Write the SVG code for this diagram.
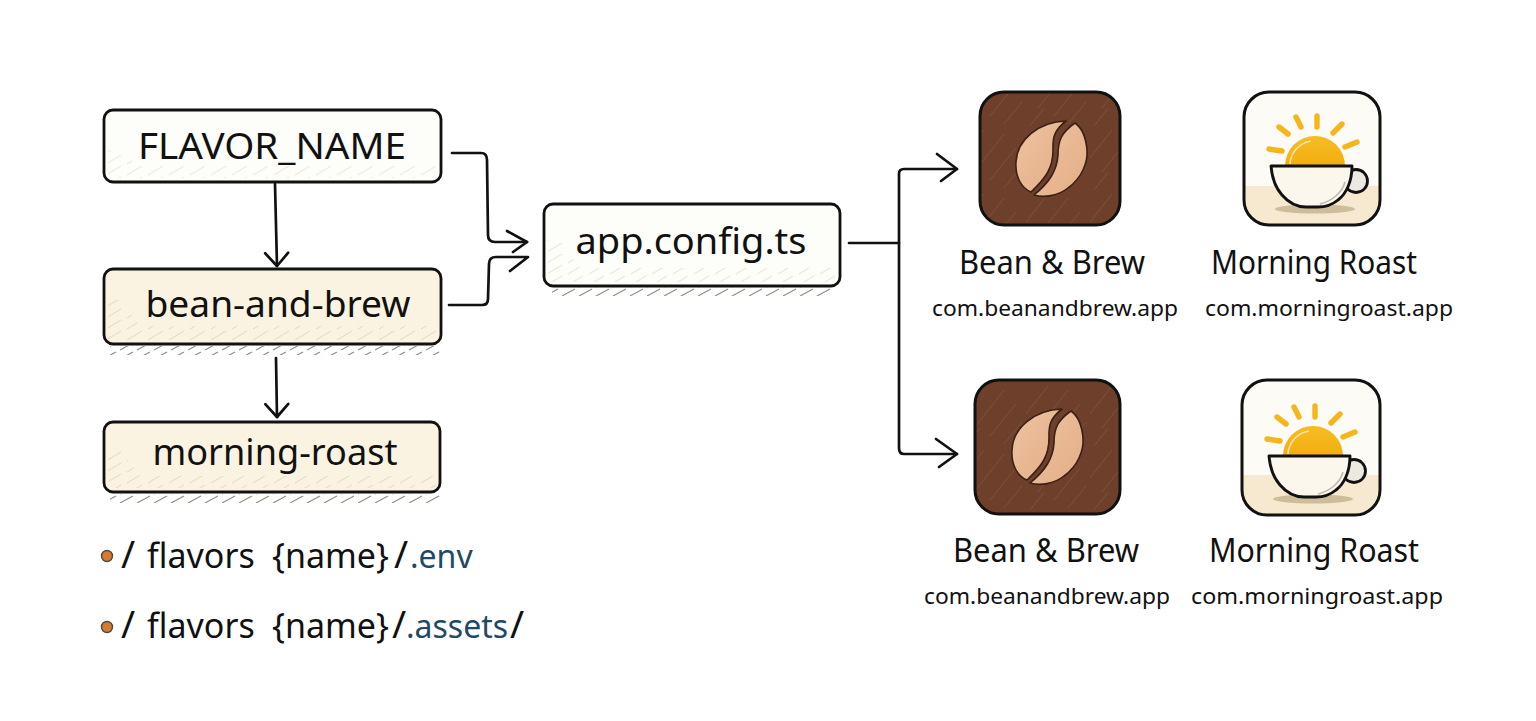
<svg xmlns="http://www.w3.org/2000/svg" width="1536" height="721" viewBox="0 0 1536 721">
<style>
.box{stroke:#111;stroke-width:2.8;stroke-linejoin:round}
.w{fill:#fdfdfa}.c{fill:#faf3e2}
.t{font-family:"Noto Sans","Liberation Sans",sans-serif;fill:#111;text-anchor:middle}
.big{font-size:36px}
.name{font-size:33px}
.id{font-size:22px}
.path{font-size:34px;text-anchor:start}
.slash{font-size:38px}
.blue{fill:#1f4a66;font-size:32px}
.conn{fill:none;stroke:#111;stroke-width:2.7;stroke-linecap:round;stroke-linejoin:round}
.ray{stroke:#f5b51b;stroke-width:5.4;stroke-linecap:round}
.under{fill:url(#hatch)}
.in{fill:url(#hatchIn)}
.brown{fill:#6e3f2a;stroke:#111;stroke-width:3}
.cream{fill:#fdfbf5}
.table{fill:#f6e9cf}
.frame{fill:none;stroke:#111;stroke-width:3}
</style>
<defs>
<pattern id="hatch" width="17" height="9" patternUnits="userSpaceOnUse">
<path d="M1 8L14 1" stroke="#8f8b7e" stroke-width="1.1" fill="none"/>
</pattern>
<pattern id="hatchIn" width="21" height="11" patternUnits="userSpaceOnUse">
<path d="M1 10L16 1" stroke="#e6dec9" stroke-width="1.1" fill="none"/>
</pattern>
<pattern id="grain" width="64" height="64" patternUnits="userSpaceOnUse">
<g stroke="#8f6148" stroke-width="1" fill="none" opacity=".5">
<path d="M2 30L24 2"/><path d="M14 44L44 6"/><path d="M30 52L56 20"/><path d="M6 62L20 44"/><path d="M44 60L62 38"/>
</g>
</pattern>
<marker id="small" viewBox="-16 -14 18 28" refX="0" refY="0" markerWidth="18" markerHeight="28" markerUnits="userSpaceOnUse" orient="auto">
<path d="M-13-11.5L0 0L-13 11.5" fill="none" stroke="#111" stroke-width="2.7" stroke-linecap="round" stroke-linejoin="round"/>
</marker>
<linearGradient id="sun" x1="0" y1="0" x2="0" y2="1"><stop offset="0" stop-color="#f7bd24"/><stop offset="1" stop-color="#f2ae10"/></linearGradient>
<linearGradient id="beanL" x1="0" y1="0" x2="1" y2="1"><stop offset="0" stop-color="#eec3a0"/><stop offset="1" stop-color="#e3ad86"/></linearGradient>
<symbol id="beanMark" viewBox="0 0 144 137" width="144" height="137" overflow="visible">
<path d="M88 31C74 42 75 50 75 60C75 78 68 88 53 102C43 98 37 86 38 72C39 50 60 32 88 31Z" fill="url(#beanL)" stroke="#3a2015" stroke-width="1.6" stroke-linejoin="round"/>
<path d="M97 33C84 42 80 50 80 65C79 80 72 92 56 105C66 108 80 106 90 98C104 88 110 72 109 60C108 48 104 38 97 33Z" fill="url(#beanL)" stroke="#3a2015" stroke-width="1.6" stroke-linejoin="round"/>
</symbol>
<symbol id="cupMark" viewBox="0 0 140 137" width="140" height="137" overflow="visible">
<ellipse cx="73" cy="119" rx="40" ry="4.5" fill="#cdbd9b"/>
<path d="M43 76A30 30 0 0 1 103 76Z" fill="url(#sun)"/>
<path d="M48 74A25 25 0 0 1 69 51" fill="none" stroke="#fbe7ae" stroke-width="1.6"/>
<line class="ray" x1="37" y1="37" x2="46" y2="44"/>
<line class="ray" x1="54" y1="27" x2="59" y2="37"/>
<line class="ray" x1="75" y1="26" x2="75" y2="37"/>
<line class="ray" x1="100" y1="34" x2="91" y2="43"/>
<line class="ray" x1="115" y1="52" x2="103" y2="57"/>
<line class="ray" x1="27" y1="59" x2="40" y2="61"/>
<circle cx="114" cy="91" r="11.5" fill="#ece9e1" stroke="#111" stroke-width="2.8"/>
<path d="M29 76H110C110 92 104 104 96 110C90 115 84 117 76 117H64C54 117 46 112 40 105C33 97 30 88 29 76Z" fill="#fbf7ec" stroke="#111" stroke-width="2.9" stroke-linejoin="round"/>
<path d="M103 92C100 103 90 111 78 114" fill="none" stroke="#bdb9ad" stroke-width="1.6"/>
</symbol>
</defs>
<rect width="1536" height="721" fill="#fff"/>

<g id="connectors" class="conn">
<path d="M275 184L277 266" marker-end="url(#small)"/>
<path d="M276 358L277 417" marker-end="url(#small)"/>
<path d="M452 153H481Q487 153 487 160L488 235Q488 242 495 242H527"/>
<path d="M507 231L527 242L513 252"/>
<path d="M449 305H482Q488 305 488 299L489 264Q489 257 496 257H528L510 271"/>
<path d="M849 243H899"/>
<path d="M957 169H904Q899 169 899 174V448Q899 454 904 454H957"/>
<path d="M937 154L957 169L941 181"/>
<path d="M936 439L957 454L939 467"/>
</g>

<g id="flavor-name">
<rect class="box w" x="104" y="110" width="337" height="72" rx="9"/>
<path class="in" opacity=".6" d="M108 150H120L138 166H438V178H108Z"/>
<text class="t big" x="272" y="159" textLength="268" lengthAdjust="spacingAndGlyphs">FLAVOR_NAME</text>
</g>
<g id="bean-and-brew">
<rect class="under" x="110" y="346" width="330" height="9"/>
<rect class="box c" x="104" y="269" width="337" height="75" rx="9"/>
<path class="in" d="M108 300H120L140 326H438V340H108Z"/>
<text class="t big" x="278" y="317" textLength="265" lengthAdjust="spacingAndGlyphs">bean-and-brew</text>
</g>
<g id="morning-roast">
<rect class="under" x="110" y="494" width="330" height="9"/>
<rect class="box c" x="104" y="422" width="336" height="70" rx="9"/>
<path class="in" d="M108 450H120L140 476H436V488H108Z"/>
<text class="t big" x="275" y="465" textLength="245" lengthAdjust="spacingAndGlyphs">morning-roast</text>
</g>
<g id="app-config">
<rect class="under" x="552" y="287" width="282" height="9"/>
<rect class="box w" x="544" y="204" width="296" height="82" rx="9"/>
<path class="in" opacity=".7" d="M548 240H560L580 268H836V282H548Z"/>
<text class="t big" x="691" y="254" textLength="231" lengthAdjust="spacingAndGlyphs">app.config.ts</text>
</g>

<g id="paths">
<circle cx="107" cy="556" r="5.5" fill="#d9792f" stroke="#4a4a40" stroke-width="1.4"/>
<text class="t path" y="568"><tspan class="slash" x="121">/</tspan><tspan x="147">flavors </tspan><tspan x="272">{name}</tspan><tspan class="slash" x="394">/</tspan><tspan class="blue" x="410">.env</tspan></text>
<circle cx="107" cy="627" r="5.5" fill="#d9792f" stroke="#4a4a40" stroke-width="1.4"/>
<text class="t path" y="638"><tspan class="slash" x="121">/</tspan><tspan x="147">flavors </tspan><tspan x="272">{name}</tspan><tspan class="slash" x="392">/</tspan><tspan class="blue" x="406">.assets</tspan><tspan class="slash" x="510">/</tspan></text>
</g>

<g id="bean-top">
<rect class="brown" x="980" y="92" width="140" height="133" rx="24"/>
<rect x="982" y="94" width="136" height="129" rx="22" fill="url(#grain)"/>
<use href="#beanMark" x="978" y="90"/>
<text class="t name" x="1052" y="274" textLength="186" lengthAdjust="spacingAndGlyphs">Bean &amp; Brew</text>
<text class="t id" x="1055" y="316" textLength="246" lengthAdjust="spacingAndGlyphs">com.beanandbrew.app</text>
</g>
<g id="morning-top">
<rect class="cream" x="1244" y="92" width="136" height="133" rx="25"/>
<path class="table" d="M1244 186H1380V200A25 25 0 0 1 1355 225H1269A25 25 0 0 1 1244 200Z"/>
<use href="#cupMark" x="1242" y="90"/>
<rect class="frame" x="1244" y="92" width="136" height="133" rx="25"/>
<text class="t name" x="1314" y="274" textLength="206" lengthAdjust="spacingAndGlyphs">Morning Roast</text>
<text class="t id" x="1329" y="316" textLength="248" lengthAdjust="spacingAndGlyphs">com.morningroast.app</text>
</g>
<g id="bean-bottom">
<rect class="brown" x="975" y="380" width="145" height="134" rx="24"/>
<rect x="977" y="382" width="141" height="130" rx="22" fill="url(#grain)"/>
<use href="#beanMark" x="974" y="378"/>
<text class="t name" x="1046" y="562" textLength="186" lengthAdjust="spacingAndGlyphs">Bean &amp; Brew</text>
<text class="t id" x="1047" y="604" textLength="246" lengthAdjust="spacingAndGlyphs">com.beanandbrew.app</text>
</g>
<g id="morning-bottom">
<rect class="cream" x="1242" y="380" width="138" height="135" rx="25"/>
<path class="table" d="M1242 475H1380V490A25 25 0 0 1 1355 515H1267A25 25 0 0 1 1242 490Z"/>
<use href="#cupMark" x="1240" y="380"/>
<rect class="frame" x="1242" y="380" width="138" height="135" rx="25"/>
<text class="t name" x="1314" y="562" textLength="210" lengthAdjust="spacingAndGlyphs">Morning Roast</text>
<text class="t id" x="1317" y="604" textLength="252" lengthAdjust="spacingAndGlyphs">com.morningroast.app</text>
</g>
</svg>
